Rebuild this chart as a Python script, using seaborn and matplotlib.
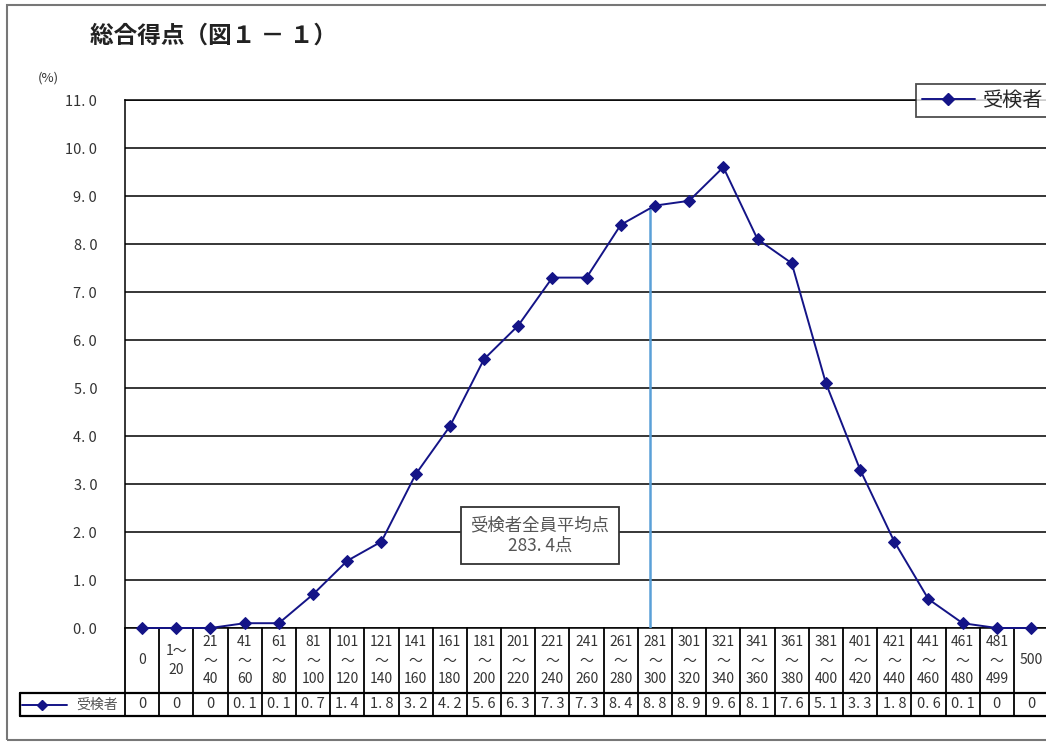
import numpy as np
import pandas as pd
import seaborn as sns
import matplotlib.pyplot as plt
from matplotlib.transforms import blended_transform_factory
from matplotlib.patches import Rectangle

# data
categories = ["0", "1～\n20", "21\n～\n40", "41\n～\n60", "61\n～\n80", "81\n～\n100",
              "101\n～\n120", "121\n～\n140", "141\n～\n160", "161\n～\n180", "181\n～\n200",
              "201\n～\n220", "221\n～\n240", "241\n～\n260", "261\n～\n280", "281\n～\n300",
              "301\n～\n320", "321\n～\n340", "341\n～\n360", "361\n～\n380", "381\n～\n400",
              "401\n～\n420", "421\n～\n440", "441\n～\n460", "461\n～\n480", "481\n～\n499", "500"]
values = [0, 0, 0, 0.1, 0.1, 0.7, 1.4, 1.8, 3.2, 4.2, 5.6, 6.3, 7.3, 7.3, 8.4, 8.8,
          8.9, 9.6, 8.1, 7.6, 5.1, 3.3, 1.8, 0.6, 0.1, 0, 0]
series_name = "受検者"
mean_score = 283.4
mean_pos = 14.85   # position of the mean line on the category axis
yticks = np.arange(0, 11.5, 1.0)

df = pd.DataFrame({"x": np.arange(len(values)), "pct": values})

sns.set_theme(style="white")
plt.rcParams['font.family'] = ['Noto Sans CJK JP', 'DejaVu Sans']

W, H = 1046, 742
fig = plt.figure(figsize=(W / 100, H / 100), dpi=100)
n = len(values)
left_px, top_px, bot_px = 125, 100, 628
cell_w = 34.19
right_px = left_px + n * cell_w
ax = fig.add_axes([left_px / W, 1 - bot_px / H, (right_px - left_px) / W, (bot_px - top_px) / H])

navy = "#141487"
sns.lineplot(data=df, x="x", y="pct", ax=ax, color=navy, lw=1.4, marker="D",
             markersize=6, markeredgecolor=navy, clip_on=False, zorder=5, legend=False)

ax.set_xlim(-0.5, n - 0.5)
ax.set_ylim(0, 11)
ax.set_yticks(yticks)
ax.set_yticklabels([f"{v:.1f}".replace(".", ". ") for v in yticks], fontsize=10.5, color="#333333")
ax.set_xticks([])
ax.set_xlabel("")
ax.set_ylabel("")
ax.tick_params(axis="y", length=0, pad=20)
ax.yaxis.grid(True, color="black", lw=1.1)
for s in ["left", "bottom", "top"]:
    ax.spines[s].set_color("black")
    ax.spines[s].set_linewidth(1.1)
ax.spines["right"].set_visible(False)

# mean line
mean_y = np.interp(mean_pos, df["x"], df["pct"])
ax.plot([mean_pos, mean_pos], [0, mean_y], color="#5aa0d8", lw=1.8, zorder=4)
ax.text(11.64, 1.92, f"受検者全員平均点\n{mean_score}点".replace(".", ". "), ha="center", va="center",
        fontsize=12.5, color="#555555", linespacing=1.15, zorder=6,
        bbox=dict(boxstyle="square,pad=0.55", fc="white", ec="#333333", lw=1.3))

# data table below the plot
tr = blended_transform_factory(ax.transData, fig.transFigure)
y_top = 1 - bot_px / H
y_mid = 1 - 693 / H
y_bot = 1 - 716 / H
x_lab = -0.5 - (left_px - 20) / cell_w
for i in range(n + 1):
    ax.plot([i - 0.5, i - 0.5], [y_top, y_bot], color="black", lw=1.3, transform=tr, clip_on=False)
ax.plot([x_lab, n - 0.5], [y_mid, y_mid], color="black", lw=1.6, transform=tr, clip_on=False)
ax.plot([x_lab, n - 0.5], [y_bot, y_bot], color="black", lw=1.6, transform=tr, clip_on=False)
ax.plot([x_lab, x_lab], [y_mid, y_bot], color="black", lw=1.6, transform=tr, clip_on=False)
for i, (c, v) in enumerate(zip(categories, values)):
    ax.text(i, (y_top + y_mid) / 2, c, ha="center", va="center", fontsize=10,
            color="#333333", linespacing=1.4, transform=tr)
    lab = "0" if v == 0 else f"{v:.1f}".replace(".", ". ")
    ax.text(i, (y_mid + y_bot) / 2, lab, ha="center", va="center", fontsize=10.5,
            color="#333333", transform=tr)
# row label with legend key
yr = (y_mid + y_bot) / 2
ax.plot([x_lab + 0.06, x_lab + 1.38], [yr, yr], color=navy, lw=1.4, transform=tr, clip_on=False)
ax.plot([x_lab + 0.65], [yr], color=navy, marker="D", markersize=5.5, transform=tr, clip_on=False)
ax.text(x_lab + 2.25, yr, series_name, ha="center", va="center",
        fontsize=10, color="#555555", transform=tr)

# legend
ax.plot([], [], color=navy, lw=1.4, marker="D", markersize=6, label=series_name)
leg = fig.legend(loc="upper right", bbox_to_anchor=(1.0 + 3 / W, 1 - 84 / H), fontsize=14.5,
                 frameon=True, fancybox=False, edgecolor="#222222", handlelength=2.6,
                 handletextpad=0.4, borderpad=0.3, borderaxespad=0)
leg.get_frame().set_linewidth(1.3)

# title and unit
fig.text(90 / W, 1 - 36 / H, "総合得点（図１ － １）", fontsize=17, fontweight="bold",
         ha="left", va="center", color="#222222")
fig.text(38 / W, 1 - 78 / H, "(%)", fontsize=9.5, ha="left", va="center", color="#333333")

# outer frame
fig.patches.append(Rectangle((7 / W, 2 / H), 1.2, 1 - 5 / H - 2 / H, transform=fig.transFigure,
                             fill=False, ec="#777777", lw=1.5))

fig.savefig("out.png", dpi=100)
